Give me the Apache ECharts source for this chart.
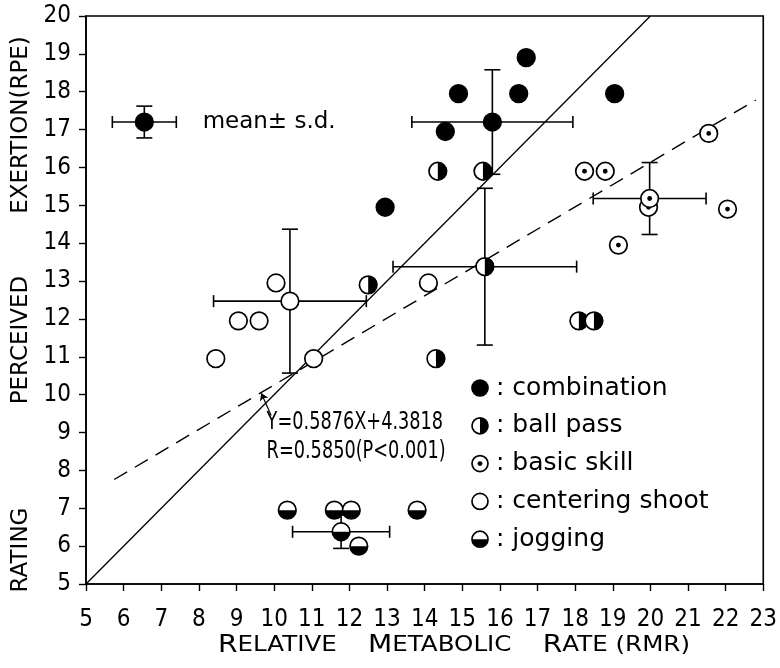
<!DOCTYPE html>
<html>
<head>
<meta charset="utf-8">
<script src="https://cdn.jsdelivr.net/npm/echarts@6/dist/echarts.min.js"></script>
<style>
  html, body { margin: 0; padding: 0; background: #fff; }
  #main { width: 780px; height: 668px; }
</style>
</head>
<body>
<div id="main"></div>
<script>
// RMR (x) vs RPE (y) for each drill
var combination    = [[16.7, 18.9], [14.9, 17.95], [16.5, 17.95], [19.05, 17.95], [14.55, 16.95], [12.95, 14.95]];
var ballPass       = [[14.35, 15.9], [15.55, 15.9], [12.5, 12.9], [18.1, 11.95], [18.5, 11.95], [14.3, 10.95]];
var basicSkill     = [[21.55, 16.9], [18.25, 15.9], [18.8, 15.9], [19.95, 14.95], [22.05, 14.9], [19.15, 13.95]];
var centeringShoot = [[10.05, 12.95], [14.1, 12.95], [9.05, 11.95], [9.6, 11.95], [8.45, 10.95], [11.05, 10.95]];
var jogging        = [[10.35, 6.95], [11.6, 6.95], [12.05, 6.95], [13.8, 6.95], [12.25, 6.0]];

// group means: [x, y, sdX, sdY]
var meanCombination    = [15.8, 17.2, 2.14, 1.38];
var meanBallPass       = [15.6, 13.38, 2.44, 2.07];
var meanBasicSkill     = [19.98, 15.18, 1.5, 0.95];
var meanCenteringShoot = [10.42, 12.47, 2.03, 1.9];
var meanJogging        = [11.78, 6.38, 1.29, 0.44];
var keyMean            = [6.55, 17.2, 0.85, 0.42];

var identityLine    = [[5, 5], [20, 20]];
var regressionLine  = [[5.75, 7.76], [22.8, 17.78]];
var regressionArrow = [[9.92, 9.45], [9.66, 10.04]];

var xTicks = { min: 5, max: 23, step: 1 };
var yTicks = { min: 5, max: 20, step: 1 };

var legendNames = ['combination', 'ball pass', 'basic skill', 'centering shoot', 'jogging'];
var legendKinds = ['combination', 'ballPass', 'basicSkill', 'centeringShoot', 'jogging'];

var cond = '"DejaVu Sans Condensed", "DejaVu Sans", sans-serif';
var sans = '"DejaVu Sans", sans-serif';

function markerShapes(kind, cx, cy, r) {
  var out = [{ type: 'circle', shape: { cx: cx, cy: cy, r: r },
    style: { fill: kind === 'combination' ? '#000' : '#fff' } }];
  if (kind === 'ballPass') {
    out.push({ type: 'sector', shape: { cx: cx, cy: cy, r0: 0, r: r,
      startAngle: -Math.PI / 2, endAngle: Math.PI / 2, clockwise: true }, style: { fill: '#000' } });
  }
  if (kind === 'jogging') {
    out.push({ type: 'sector', shape: { cx: cx, cy: cy, r0: 0, r: r,
      startAngle: 0, endAngle: Math.PI, clockwise: true }, style: { fill: '#000' } });
  }
  if (kind === 'basicSkill') {
    out.push({ type: 'circle', shape: { cx: cx, cy: cy, r: 2.4 }, style: { fill: '#000' } });
  }
  out.push({ type: 'circle', shape: { cx: cx, cy: cy, r: r },
    style: { fill: 'none', stroke: '#000', lineWidth: 1.7 } });
  return out;
}

function markerSeries(kind, data) {
  return {
    type: 'custom', name: kind, data: data, z: 5,
    encode: { x: 0, y: 1 },
    renderItem: function (params, api) {
      var p = api.coord([api.value(0), api.value(1)]);
      return { type: 'group', children: markerShapes(kind, p[0], p[1], 8.8) };
    }
  };
}

function renderErrorBar(params, api) {
  var x = api.value(0), y = api.value(1), sx = api.value(2), sy = api.value(3);
  var l = api.coord([x - sx, y]), rt = api.coord([x + sx, y]);
  var t = api.coord([x, y + sy]), b = api.coord([x, y - sy]);
  var st = { stroke: '#000', lineWidth: 1.6 };
  function seg(x1, y1, x2, y2) { return { type: 'line', shape: { x1: x1, y1: y1, x2: x2, y2: y2 }, style: st }; }
  return { type: 'group', children: [
    seg(l[0], l[1], rt[0], rt[1]),
    seg(l[0], l[1] - 6, l[0], l[1] + 6),
    seg(rt[0], rt[1] - 6, rt[0], rt[1] + 6),
    seg(t[0], t[1], b[0], b[1]),
    seg(t[0] - 8, t[1], t[0] + 8, t[1]),
    seg(b[0] - 8, b[1], b[0] + 8, b[1])
  ] };
}

var chart = echarts.init(document.getElementById('main'), null, { renderer: 'canvas' });

var option = {
  animation: false,
  backgroundColor: '#fff',
  grid: { left: 86, right: 12, top: 16, bottom: 84, show: true, borderColor: '#000', borderWidth: 1.6 },
  xAxis: {
    type: 'value', min: xTicks.min, max: xTicks.max, interval: xTicks.step,
    axisLine: { onZero: false, lineStyle: { color: '#000', width: 1.6 } },
    axisTick: { inside: false, length: 7, lineStyle: { color: '#000', width: 1.4 } },
    axisLabel: { margin: 24, color: '#000', fontFamily: cond, fontSize: 24 },
    splitLine: { show: false }
  },
  yAxis: {
    type: 'value', min: yTicks.min, max: yTicks.max, interval: yTicks.step,
    axisLine: { onZero: false, lineStyle: { color: '#000', width: 1.6 } },
    axisTick: { inside: false, length: 7, lineStyle: { color: '#000', width: 1.4 } },
    axisLabel: { margin: 15, color: '#000', fontFamily: cond, fontSize: 24 },
    splitLine: { show: false }
  },
  series: [
    { type: 'line', data: identityLine, symbol: 'none', z: 2,
      lineStyle: { color: '#000', width: 1.3 } },
    { type: 'line', data: regressionLine, symbol: 'none', z: 2,
      lineStyle: { color: '#000', width: 1.4, type: [15, 9] } },
    { type: 'lines', coordinateSystem: 'cartesian2d', z: 2,
      symbol: ['none', 'arrow'], symbolSize: 7,
      lineStyle: { color: '#000', width: 1.2, opacity: 1 },
      data: [{ coords: regressionArrow }] },
    { type: 'custom', encode: { x: 0, y: 1 }, z: 3, renderItem: renderErrorBar,
      data: [meanCombination, meanBallPass, meanBasicSkill, meanCenteringShoot, meanJogging, keyMean] },
    markerSeries('combination', combination.concat([meanCombination.slice(0, 2), keyMean.slice(0, 2)])),
    markerSeries('ballPass', ballPass.concat([meanBallPass.slice(0, 2)])),
    markerSeries('basicSkill', basicSkill.concat([meanBasicSkill.slice(0, 2)])),
    markerSeries('centeringShoot', centeringShoot.concat([meanCenteringShoot.slice(0, 2)])),
    markerSeries('jogging', jogging.concat([meanJogging.slice(0, 2)]))
  ]
};
chart.setOption(option);

// texts and key, placed after the grid exists
var keyPos = chart.convertToPixel({ gridIndex: 0 }, [keyMean[0] + 1.55, keyMean[1]]);
var eqPos = chart.convertToPixel({ gridIndex: 0 }, [9.8, 9.25]);
var rPos = chart.convertToPixel({ gridIndex: 0 }, [9.8, 8.5]);

var legendItems = [];
legendNames.forEach(function (name, i) {
  var y = 388 + i * 37.8;
  legendItems.push({ type: 'group', children: markerShapes(legendKinds[i], 480, y, 8) });
  legendItems.push({ type: 'text', x: 496, y: y,
    style: { text: ': ' + name, font: '25px ' + sans, fill: '#000', verticalAlign: 'middle' } });
});

var yTitle = [['EXERTION(RPE)', 125], ['PERCEIVED', 340], ['RATING', 550]].map(function (w) {
  return { type: 'text', x: 21, y: w[1], rotation: Math.PI / 2,
    style: { text: w[0], align: 'center', verticalAlign: 'middle', font: '23px ' + sans, fill: '#000' } };
});

chart.setOption({
  graphic: [
    { type: 'text', x: keyPos[0], y: keyPos[1],
      style: { text: 'mean\u00b1 s.d.', font: '23px ' + sans, fill: '#000', verticalAlign: 'middle' } },
    { type: 'text', x: eqPos[0], y: eqPos[1], scaleX: 0.82,
      style: { text: 'Y=0.5876X+4.3818', font: '24px ' + cond, fill: '#000', verticalAlign: 'middle' } },
    { type: 'text', x: rPos[0], y: rPos[1], scaleX: 0.82,
      style: { text: 'R=0.5850(P<0.001)', font: '24px ' + cond, fill: '#000', verticalAlign: 'middle' } },
    { type: 'text', x: 454, y: 646, scaleX: 1.17,
      style: { text: '{b|R}ELATIVE    {b|M}ETABOLIC    {b|R}ATE (RMR)', align: 'center', verticalAlign: 'middle',
        font: '21px ' + sans, fill: '#000', rich: { b: { fontSize: 24, fontFamily: sans } } } }
  ].concat(yTitle, legendItems)
});
</script>
</body>
</html>
